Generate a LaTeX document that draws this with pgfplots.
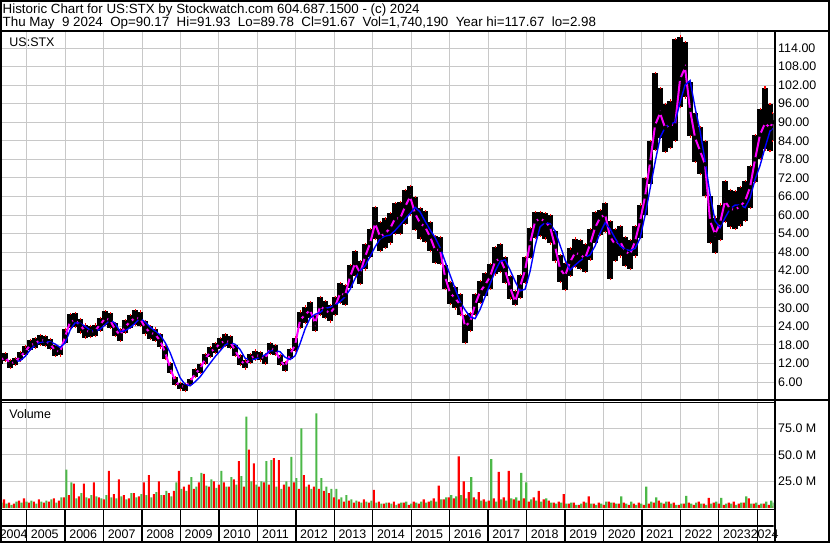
\documentclass[border=0pt]{standalone}
\usepackage{pgfplots}
\usepackage{pgfplotstable}
\usepackage{fontspec}
\setmainfont{Liberation Sans}
\pgfplotsset{compat=1.18}

\definecolor{gridgray}{RGB}{200,200,200}
\definecolor{volred}{RGB}{255,0,0}
\definecolor{volgreen}{RGB}{76,184,72}
\definecolor{mavg}{RGB}{255,0,255}
\definecolor{lavg}{RGB}{0,0,255}

\newcommand{\lbl}{\fontsize{12.5}{14}\selectfont}

% price: high / low range, short average (magenta), long average (blue)
\pgfplotstableread{
yr hi lo ma bma
2004.31 14.2 11.9 13.0 nan
2004.44 15.3 12.8 14.0 nan
2004.57 13.2 10.6 12.0 nan
2004.70 13.8 11.6 12.5 12.6
2004.83 15.6 13.0 14.3 12.9
2004.96 17.5 14.6 15.8 14.3
2005.09 19.6 16.4 18.0 16.4
2005.22 20.2 17.0 18.4 18.0
2005.35 21.3 18.0 19.6 18.9
2005.48 21.0 17.6 19.4 19.0
2005.61 20.0 16.8 18.3 19.0
2005.74 17.9 14.5 16.2 18.3
2005.87 17.4 14.6 15.8 17.2
2006.00 23.0 18.6 20.7 18.7
2006.13 28.0 23.4 25.5 22.8
2006.26 28.4 23.8 26.0 25.2
2006.39 26.5 22.0 24.3 25.0
2006.52 24.6 20.4 22.6 24.0
2006.65 24.2 20.5 22.3 22.8
2006.78 24.6 20.8 22.6 22.4
2006.91 26.8 22.6 24.6 23.1
2007.04 28.9 24.5 26.6 24.5
2007.17 28.2 23.6 26.0 26.1
2007.30 25.1 21.0 23.0 25.0
2007.43 23.0 19.4 21.2 22.3
2007.56 26.0 22.0 23.9 22.6
2007.69 27.7 23.5 25.5 23.6
2007.82 29.2 24.6 26.8 25.0
2007.95 28.8 24.0 26.5 26.6
2008.08 25.8 21.4 23.6 25.4
2008.21 24.0 20.0 22.0 23.8
2008.34 23.3 19.4 21.4 22.5
2008.47 21.4 17.2 19.4 21.2
2008.60 17.6 13.6 15.6 18.8
2008.73 12.2 9.0 10.6 15.5
2008.86 7.5 5.0 6.3 11.3
2008.99 5.6 3.6 4.7 7.4
2009.12 5.4 3.0 4.5 5.2
2009.25 7.0 5.0 6.0 4.8
2009.38 10.2 7.6 8.8 6.1
2009.51 11.8 9.0 10.2 7.7
2009.64 15.2 12.0 13.5 9.9
2009.77 17.4 14.2 15.7 12.1
2009.90 18.6 15.3 16.9 14.2
2010.03 20.3 16.8 18.5 16.1
2010.16 21.4 17.6 19.3 18.0
2010.29 20.8 17.0 18.9 18.8
2010.42 18.0 14.5 16.3 18.2
2010.55 14.6 11.6 13.1 16.5
2010.68 13.0 10.4 11.7 13.7
2010.81 15.0 12.2 13.5 13.2
2010.94 16.2 13.3 14.7 13.4
2011.07 15.8 13.0 14.4 14.0
2011.20 14.9 12.0 13.5 14.8
2011.33 18.6 15.2 16.9 16.1
2011.46 18.0 14.8 16.4 16.2
2011.59 14.6 11.6 13.1 15.8
2011.72 12.4 9.6 11.0 14.0
2011.85 16.8 13.4 15.0 13.3
2011.98 20.4 16.0 18.0 14.5
2012.11 28.8 23.6 26.1 18.5
2012.24 30.4 25.2 27.7 23.2
2012.37 32.0 26.6 29.3 26.7
2012.50 27.6 22.6 25.0 27.9
2012.63 33.6 27.6 30.5 28.5
2012.76 32.2 26.6 29.3 29.8
2012.89 31.0 25.6 28.2 30.2
2013.02 33.4 27.6 30.4 30.9
2013.15 38.0 31.6 34.7 32.0
2013.28 37.4 31.0 34.1 33.6
2013.41 43.8 36.5 40.1 36.0
2013.54 48.4 40.4 44.4 39.5
2013.67 45.0 37.6 41.2 42.0
2013.80 50.6 42.4 46.5 43.6
2013.93 55.4 46.4 50.9 46.6
2014.06 62.7 52.2 57.3 49.7
2014.19 57.8 48.4 53.0 52.3
2014.32 58.9 49.4 54.1 53.2
2014.45 60.6 50.8 55.7 53.5
2014.58 64.0 53.8 58.9 55.0
2014.71 64.2 53.8 58.9 56.8
2014.84 68.2 57.2 62.7 58.7
2014.97 69.4 60.2 65.9 60.5
2015.10 65.9 55.2 60.5 62.5
2015.23 62.4 52.4 57.3 61.0
2015.36 61.2 51.2 56.2 58.0
2015.49 57.8 48.4 53.0 55.2
2015.62 53.2 44.4 48.7 52.7
2015.75 53.0 44.2 48.7 49.5
2015.88 44.0 36.2 40.0 45.0
2016.01 38.4 31.2 34.7 40.6
2016.14 36.8 29.8 33.2 36.2
2016.27 34.4 27.6 31.0 32.0
2016.40 27.6 18.5 24.0 29.3
2016.53 28.4 22.4 25.5 27.1
2016.66 34.4 27.8 31.0 26.5
2016.79 38.8 31.6 35.2 29.5
2016.92 41.2 33.8 37.4 33.6
2017.05 44.2 36.2 40.1 37.7
2017.18 49.6 40.8 45.0 41.8
2017.31 50.6 41.6 46.0 45.0
2017.44 46.4 38.0 42.2 45.5
2017.57 40.4 33.0 36.6 42.2
2017.70 35.4 30.9 32.0 38.6
2017.83 40.6 33.2 36.9 35.5
2017.96 46.4 38.0 42.2 36.0
2018.09 55.8 46.0 50.9 41.8
2018.22 61.1 52.6 57.9 50.0
2018.35 61.0 53.2 58.9 56.2
2018.48 60.6 52.4 57.9 57.6
2018.61 60.0 50.8 56.2 57.2
2018.74 54.8 45.0 49.8 54.8
2018.87 47.0 38.4 42.6 50.2
2019.00 44.6 35.8 40.4 45.5
2019.13 49.2 40.4 44.8 42.2
2019.26 52.4 43.2 47.8 43.8
2019.39 51.8 42.6 47.2 45.2
2019.52 50.6 41.6 46.0 46.3
2019.65 55.4 45.6 50.5 47.1
2019.78 61.0 50.8 55.9 50.0
2019.91 61.6 53.6 59.1 54.2
2020.04 64.0 54.6 60.2 57.5
2020.17 58.0 39.3 53.0 55.5
2020.30 55.4 45.2 50.5 52.5
2020.43 56.4 46.6 51.5 50.0
2020.56 53.0 43.6 48.3 48.9
2020.69 52.0 42.6 47.3 48.5
2020.82 56.4 46.6 51.5 49.2
2020.95 63.4 52.6 58.0 52.5
2021.08 72.0 60.0 66.0 59.9
2021.21 84.0 70.0 77.0 68.5
2021.34 106.0 81.0 89.0 77.0
2021.47 101.0 85.0 93.0 85.0
2021.60 96.0 80.4 88.2 88.3
2021.73 97.0 81.6 89.3 89.3
2021.86 116.9 84.0 89.0 90.0
2021.99 117.7 95.0 104.0 96.5
2022.12 116.0 98.0 107.6 102.0
2022.25 103.0 85.4 94.0 103.5
2022.38 93.0 77.2 85.0 94.7
2022.51 88.4 73.2 80.7 87.2
2022.64 84.0 66.0 76.4 77.5
2022.77 66.0 51.0 58.1 66.7
2022.90 59.2 47.8 53.8 58.1
2023.03 63.4 51.8 57.5 55.9
2023.16 71.0 57.8 64.5 59.1
2023.29 68.2 56.0 62.0 62.0
2023.42 67.8 55.6 61.7 63.2
2023.55 69.0 56.6 62.8 63.3
2023.68 71.0 58.2 64.5 62.4
2023.81 75.8 62.4 69.0 65.5
2023.94 85.8 70.6 78.0 71.5
2024.07 94.4 78.0 86.0 76.0
2024.20 101.2 81.2 89.7 81.8
2024.33 96.0 80.6 88.2 87.2
2024.40 93.0 84.0 90.0 88.0
}\price

% volume in millions: r = down days, g = up days
\pgfplotstableread{
yr r g
2004.31 3 5
2004.44 8 4
2004.57 5 3
2004.70 4 6
2004.83 7 5
2004.96 9 6
2005.09 5 7
2005.22 6 4
2005.35 8 6
2005.48 5 7
2005.61 6 8
2005.74 9 5
2005.87 7 10
2006.00 10 36
2006.13 12 24
2006.26 23 9
2006.39 11 14
2006.52 23 10
2006.65 9 12
2006.78 24 11
2006.91 10 9
2007.04 8 12
2007.17 35 10
2007.30 13 9
2007.43 27 11
2007.56 12 8
2007.69 9 14
2007.82 14 10
2007.95 11 13
2008.08 24 12
2008.21 31 10
2008.34 13 15
2008.47 25 12
2008.60 12 16
2008.73 14 11
2008.86 16 24
2008.99 35 18
2009.12 20 16
2009.25 22 29
2009.38 18 20
2009.51 24 33
2009.64 32 21
2009.77 20 27
2009.90 25 19
2010.03 22 35
2010.16 24 20
2010.29 20 29
2010.42 27 22
2010.55 44 30
2010.68 20 86
2010.81 55 25
2010.94 42 22
2011.07 20 25
2011.20 24 44
2011.33 22 45
2011.46 47 20
2011.59 45 18
2011.72 22 25
2011.85 20 48
2011.98 24 28
2012.11 18 75
2012.24 31 20
2012.37 22 18
2012.50 20 89
2012.63 18 28
2012.76 16 20
2012.89 14 18
2013.02 10 18
2013.15 8 10
2013.28 6 12
2013.41 7 8
2013.54 5 7
2013.67 6 5
2013.80 8 6
2013.93 5 7
2014.06 17 5
2014.19 6 4
2014.32 4 5
2014.45 5 4
2014.58 6 3
2014.71 4 5
2014.84 5 6
2014.97 3 4
2015.10 6 5
2015.23 4 6
2015.36 8 5
2015.49 6 7
2015.62 9 6
2015.75 21 8
2015.88 8 10
2016.01 10 12
2016.14 9 11
2016.27 48.6 12
2016.40 25 9
2016.53 15 29
2016.66 10 8
2016.79 15 7
2016.92 8 6
2017.05 7 46
2017.18 9 6
2017.31 34 8
2017.44 10 7
2017.57 35 9
2017.70 8 10
2017.83 7 33
2017.96 9 24
2018.09 6 8
2018.22 10 7
2018.35 16 6
2018.48 8 9
2018.61 7 5
2018.74 5 4
2018.87 6 5
2019.00 13 4
2019.13 4 5
2019.26 5 3
2019.39 3 4
2019.52 6 5
2019.65 11 4
2019.78 4 3
2019.91 5 4
2020.04 3 6
2020.17 6 5
2020.30 5 4
2020.43 4 11
2020.56 5 4
2020.69 3 6
2020.82 4 3
2020.95 5 4
2021.08 3 20
2021.21 4 6
2021.34 5 10
2021.47 7 5
2021.60 4 6
2021.73 6 4
2021.86 5 3
2021.99 3 4
2022.12 4 11.5
2022.25 5 4
2022.38 3 5
2022.51 6 4
2022.64 4 3
2022.77 9.5 4
2022.90 5 6
2023.03 4 9.5
2023.16 3 4
2023.29 5 4
2023.42 6 3
2023.55 4 5
2023.68 5 11
2023.81 9 4
2023.94 4 5
2024.07 3 4
2024.20 4 6
2024.33 3 7
2024.40 2 5
}\vol

\pgfplotsset{
  panel/.style={
    scale only axis, width=773.5bp,
    xmin=2004.306, xmax=2024.42, enlargelimits=false,
    axis line style={draw=none},
    major tick length=0pt, minor tick length=0pt,
    grid style={draw=gridgray, line width=1bp},
    tick label style={font=\lbl},
    /pgf/number format/assume math mode=true,
  },
}

\begin{document}
\begin{tikzpicture}
\useasboundingbox (0bp,0bp) rectangle (830bp,543bp);

% price panel
\begin{axis}[panel, at={(0bp,143bp)}, anchor=south west, height=369bp,
  ymin=0.2, ymax=119.5,
  xtick={2005,...,2024}, xticklabels={}, xmajorgrids,
  ytick={6,12,18,24,30,36,42,48,54,60,66,72,78,84,90,96,102,108,114}, ymajorgrids,
  yticklabel pos=right,
  yticklabel style={anchor=west, xshift=1.2bp,
    /pgf/number format/.cd, fixed, fixed zerofill, precision=2},
]
\addplot[only marks, mark=none, forget plot,
  error bars/.cd, y dir=both, y explicit,
  error bar style={draw=black, line width=6bp},
  error mark=-, error mark options={draw=volred, line width=1.1bp, mark size=1.1bp}]
  table[x=yr, y=ma, y error plus expr=\thisrow{hi}-\thisrow{ma},
        y error minus expr=\thisrow{ma}-\thisrow{lo}]{\price};
\addplot[mavg, line width=2bp, mark=none] table[x=yr, y=ma]{\price};
\addplot[lavg, line width=1.4bp, mark=none, unbounded coords=jump] table[x=yr, y=bma]{\price};
\end{axis}

% volume panel
\begin{axis}[panel, at={(0bp,35bp)}, anchor=south west, height=105bp,
  ymin=0, ymax=98.8,
  xtick={2005,...,2024}, xticklabels={}, xmajorgrids,
  ytick={25,50,75}, yticklabels={25.0 M,50.0 M,75.0 M}, ymajorgrids,
  yticklabel pos=right, yticklabel style={anchor=west, xshift=1.2bp},
  ybar, bar width=2.2bp,
]
\addplot[fill=volred, draw=none, bar shift=-1.25bp] table[x=yr, y=r]{\vol};
\addplot[fill=volgreen, draw=none, bar shift=1.25bp] table[x=yr, y=g]{\vol};
\end{axis}

% year strip
\begin{axis}[panel, at={(0bp,1bp)}, anchor=south west, height=32.5bp,
  ymin=0, ymax=32.5, ytick=\empty,
  xtick={2004.66,2005.47,2006.47,2007.47,2008.47,2009.47,2010.47,2011.47,2012.47,2013.47,2014.47,
         2015.47,2016.47,2017.47,2018.47,2019.47,2020.47,2021.47,2022.47,2023.47,2024.19},
  xticklabels={2004,2005,2006,2007,2008,2009,2010,2011,2012,2013,2014,
               2015,2016,2017,2018,2019,2020,2021,2022,2023,2024},
  minor xtick={2005,...,2024}, xminorgrids,
  minor grid style={draw=black, line width=1.3bp},
  xticklabel style={anchor=center, yshift=8bp},
]
\draw[black, line width=1.5bp] (axis cs:2004.306,16) -- (axis cs:2024.42,16);
\end{axis}

\begin{scope}[x=1bp, y=1bp]
% frame
\draw[line width=2bp] (1,1) rectangle (829,542);
\draw[line width=2bp] (0,512) -- (830,512);
\draw[line width=2bp] (774.5,0) -- (774.5,512);
\draw[line width=1.5bp] (0,143) -- (830,143);
\draw[line width=1bp] (0,140.5) -- (774.5,140.5);
\draw[line width=1.5bp] (0,33.5) -- (774.5,33.5);

% header and panel captions
\node[anchor=base west, inner sep=0, font=\fontsize{13.4}{15}\selectfont] at (2.5,529.5)
  {Historic Chart for US:STX by Stockwatch.com 604.687.1500 - (c) 2024};
\node[anchor=base west, inner sep=0, font=\fontsize{13.4}{15}\selectfont] at (2.5,516.3)
  {Thu May~ 9 2024~ Op=90.17~ Hi=91.93~ Lo=89.78~ Cl=91.67~ Vol=1,740,190~ Year hi=117.67~ lo=2.98};
\node[anchor=base west, inner sep=0, font=\lbl] at (9.3,496.3) {US:STX};
\node[anchor=base west, inner sep=0, font=\lbl] at (9.3,124.7) {Volume};
\end{scope}
\end{tikzpicture}
\end{document}
